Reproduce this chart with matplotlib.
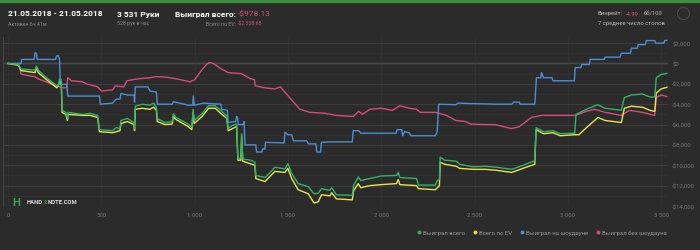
import matplotlib
matplotlib.use("Agg")
from matplotlib import pyplot as plt
from matplotlib.lines import Line2D
from matplotlib.ticker import FuncFormatter, MultipleLocator

plt.rcParams['font.family'] = ['Roboto', 'DejaVu Sans']

# --- data (hands, dollars) ---
green_x = [0, 55, 70, 145, 152, 162, 200, 262, 272, 276, 285, 290, 310, 318, 322, 400, 440, 480, 490, 560,
           580, 600, 605, 640, 675, 678, 682, 720, 760, 780, 795, 800, 840, 880, 886, 900, 965, 985, 992, 998,
           1040, 1075, 1110, 1140, 1172, 1180, 1200, 1225, 1232, 1248, 1252, 1258, 1300, 1323, 1328, 1377, 1400,
           1430, 1484, 1500, 1520, 1555, 1609, 1640, 1662, 1680, 1725, 1735, 1760, 1845, 1852, 1877, 1890, 1939,
           2000, 2082, 2091, 2100, 2189, 2200, 2290, 2300, 2312, 2316, 2340, 2403, 2420, 2492, 2560, 2620, 2700,
           2760, 2823, 2830, 2870, 2920, 2960, 3037, 3044, 3100, 3160, 3200, 3287, 3303, 3340, 3400, 3440, 3466,
           3474, 3500, 3531]
green_y = [0, -100, -550, -650, -250, -650, -1300, -2200, -2100, -1500, -1600, -4600, -4800, -5400, -4800, -5000,
           -4900, -5100, -6500, -6600, -6300, -6400, -5600, -5400, -5800, -6400, -4200, -4000, -4100, -3900, -4300,
           -5400, -5800, -5700, -4950, -5300, -5950, -6250, -4500, -5600, -4900, -4150, -4150, -4600, -5150, -6400,
           -6100, -5950, -9350, -9300, -6900, -9400, -9500, -9700, -11000, -11200, -10800, -10200, -10350, -9850,
           -10800, -11800, -12100, -12800, -12750, -12300, -12450, -12200, -12900, -12950, -12000, -11150, -11500,
           -11300, -11050, -11000, -10700, -11200, -11300, -11950, -11950, -11500, -11400, -9200, -9500, -9600,
           -9900, -10150, -10100, -10200, -10400, -10000, -9550, -6300, -6700, -6600, -6900, -6850, -5000, -4500,
           -4050, -4400, -4600, -3350, -3100, -3000, -3300, -3300, -1400, -1080, -978]

yellow_x = [0, 55, 70, 145, 152, 162, 200, 262, 276, 285, 290, 310, 318, 322, 400, 440, 480, 490, 560, 600,
            605, 640, 675, 678, 682, 720, 760, 780, 795, 800, 840, 880, 886, 900, 965, 985, 992, 998, 1040, 1075,
            1110, 1140, 1172, 1180, 1225, 1232, 1248, 1252, 1258, 1323, 1328, 1377, 1430, 1484, 1500, 1520, 1555,
            1609, 1640, 1662, 1680, 1725, 1735, 1760, 1845, 1852, 1877, 1890, 1939, 2000, 2082, 2091, 2100, 2189,
            2200, 2290, 2312, 2316, 2340, 2403, 2420, 2492, 2560, 2620, 2700, 2760, 2823, 2830, 2870, 2920, 2960,
            3037, 3060, 3100, 3162, 3200, 3287, 3303, 3340, 3400, 3440, 3466, 3474, 3500, 3531]
yellow_y = [0, -150, -700, -900, -400, -900, -1500, -2400, -1800, -1900, -4800, -5000, -5600, -5000, -5100, -5100,
            -5300, -6700, -6800, -6600, -5900, -5700, -6000, -6600, -4500, -4400, -4500, -4300, -4600, -5700, -6000,
            -5950, -5200, -5500, -6200, -6500, -4800, -5900, -5200, -4400, -4400, -4900, -5400, -6600, -6200, -9500,
            -9500, -7100, -9600, -10000, -11300, -11600, -10600, -10700, -10300, -11300, -12400, -12800, -13700,
            -13600, -12900, -13000, -12700, -13300, -13400, -12500, -11800, -12200, -12000, -11900, -11800, -11400,
            -11900, -12000, -12300, -12400, -12000, -9700, -9900, -10100, -10300, -10400, -10400, -10500, -10700,
            -10300, -9900, -6500, -6900, -6800, -7100, -7000, -7000, -6300, -5300, -5600, -5800, -4400, -4200,
            -4300, -4600, -4700, -2900, -2500, -2339]

blue_x = [0, 70, 73, 140, 145, 152, 156, 255, 260, 270, 276, 280, 315, 320, 490, 495, 560, 580, 600, 605, 640,
          675, 678, 682, 750, 760, 795, 800, 880, 886, 965, 990, 993, 998, 1046, 1140, 1145, 1175, 1180, 1220,
          1225, 1230, 1234, 1260, 1265, 1270, 1328, 1332, 1360, 1365, 1377, 1380, 1480, 1484, 1500, 1520, 1530,
          1600, 1610, 1650, 1655, 1675, 1680, 1725, 1845, 1850, 1880, 1890, 2080, 2085, 2110, 2115, 2125, 2150,
          2160, 2290, 2300, 2308, 2400, 2412, 2500, 2620, 2700, 2710, 2740, 2745, 2823, 2832, 2855, 2859, 2870,
          2915, 2921, 3035, 3040, 3070, 3075, 3115, 3120, 3195, 3200, 3280, 3287, 3335, 3341, 3372, 3377, 3415,
          3421, 3466, 3470, 3515, 3520, 3531]
blue_y = [0, 0, 400, 400, 1050, 1000, 400, 400, 750, 750, 400, -2050, -2050, -3200, -3200, -4000, -3900, -3500,
          -3500, -2950, -3100, -3100, -3800, -2300, -2300, -2700, -2800, -4000, -4000, -3750, -4100, -4100, -3200,
          -4100, -3900, -4000, -4500, -4600, -5800, -5700, -5200, -5300, -6000, -6000, -5700, -8000, -8000, -8700,
          -8700, -8400, -8400, -7750, -7800, -6750, -7000, -7000, -7600, -7600, -7900, -7900, -8700, -8700, -7750,
          -7700, -7700, -6600, -6600, -6850, -6850, -6500, -6500, -7100, -6700, -6800, -7100, -7100, -6700, -4000,
          -4050, -3900, -3950, -4000, -4000, -3800, -3800, -4000, -4000, -1400, -1400, -900, -1400, -1400, -1700,
          -1700, -400, -400, -100, -100, 400, 400, 620, 620, 1000, 1000, 1500, 1500, 1850, 1850, 2250, 2250, 2000,
          2000, 2270, 2270]

pink_x = [0, 60, 70, 110, 145, 160, 260, 300, 315, 320, 340, 400, 420, 480, 500, 560, 575, 620, 637, 700, 760,
          790, 850, 900, 975, 1000, 1040, 1064, 1080, 1100, 1140, 1180, 1250, 1300, 1320, 1325, 1380, 1430, 1460,
          1502, 1540, 1564, 1618, 1700, 1760, 1850, 1880, 1900, 1939, 2000, 2060, 2100, 2150, 2189, 2210, 2290,
          2350, 2400, 2450, 2480, 2560, 2610, 2698, 2740, 2805, 2860, 2920, 3000, 3040, 3100, 3144, 3200, 3287,
          3330, 3400, 3466, 3474, 3500, 3531]
pink_y = [0, -200, -1050, -1200, -1300, -1500, -2200, -2400, -2350, -1400, -1700, -1800, -2000, -2300, -2700,
          -2600, -2200, -2300, -1700, -1500, -1400, -1300, -1350, -1500, -1800, -1600, -600, -100, 100, 0, -500,
          -900, -1000, -1500, -1600, -2200, -2400, -2500, -2300, -3200, -4000, -4500, -4800, -4900, -5100, -5200,
          -4700, -5000, -4500, -4400, -4600, -4150, -4400, -4500, -4800, -4800, -5100, -5600, -5700, -5950, -6000,
          -6000, -6400, -6200, -5300, -5100, -5100, -5100, -5100, -4700, -4500, -4800, -5100, -4600, -4800, -5100,
          -3350, -3100, -3248]

labels = ["Выиграл всего", "Всего по EV", "Выиграл на шоудауне", "Выиграл без шоудауна"]
colors = ["#2fb46a", "#e6e64c", "#4a8fd6", "#d84a7c"]

BG = "#2b2b2b"
W, H = 700, 251


def px(x, y):
    return x / W, 1 - y / H


fig = plt.figure(figsize=(7, 2.51), dpi=100, facecolor=BG)

# header strip
fig.add_artist(plt.Rectangle((0, 1 - 2.5 / H), 1, 2.5 / H, transform=fig.transFigure, color="#3a8f3a"))

fig.text(*px(8, 14), "21.05.2018 - 21.05.2018", color="white", fontsize=6, va="center", fontweight="bold")
fig.text(*px(8, 24), "Активен 6ч 41м", color="#8a8a8a", fontsize=3.8, va="center")
fig.text(*px(117, 14), "3 531 Руки", color="white", fontsize=6, va="center", fontweight="bold")
fig.text(*px(117, 24), "528 рук в час", color="#8a8a8a", fontsize=3.8, va="center")
fig.text(*px(236, 14), "Выиграл всего:", color="white", fontsize=6, va="center", ha="right", fontweight="bold")
fig.text(*px(238, 14), "-$978.13", color="#d84a7c", fontsize=6, va="center")
fig.text(*px(236, 24), "Всего по EV:", color="#8a8a8a", fontsize=3.8, va="center", ha="right")
fig.text(*px(238, 24), "-$2,338.68", color="#d84a7c", fontsize=3.8, va="center")
fig.text(*px(598, 14), "Винрейт:", color="#bbbbbb", fontsize=4.2, va="center")
fig.text(*px(626, 14), "-4.99", color="#d84a7c", fontsize=4.2, va="center")
fig.text(*px(644, 14), "бб/100", color="#bbbbbb", fontsize=4.2, va="center")
fig.text(*px(598, 24), "7 среднее число столов", color="#bbbbbb", fontsize=4.2, va="center")
fig.add_artist(plt.Circle((6.835, 2.51 - 0.145), 0.06, transform=fig.dpi_scale_trans,
                          fill=False, ec="#4a4a4a", lw=0.8))

# chart
ax = fig.add_axes([3 / W, 1 - 207 / H, 665 / W, 169 / H])
ax.set_facecolor(BG)
ax.set_xlim(-27, 3537)
ax.set_ylim(-14000, 2600)

ax.yaxis.set_major_locator(MultipleLocator(2000))
ax.yaxis.set_minor_locator(MultipleLocator(1000))
ax.xaxis.set_major_locator(MultipleLocator(500))
ax.grid(which="major", axis="y", color="#404040", lw=0.6)
ax.grid(which="minor", axis="y", color="#333333", lw=0.5)
ax.grid(which="major", axis="x", color="#353535", lw=0.5)
ax.axhline(0, color="#7a7a7a", lw=0.9, zorder=1)

ax.yaxis.tick_right()
ax.yaxis.set_major_formatter(FuncFormatter(
    lambda v, p: ("-$" if v < 0 else "$") + format(int(abs(v)), ",")))
ax.xaxis.set_major_formatter(FuncFormatter(lambda v, p: format(int(v), ",").replace(",", " ")))
ax.tick_params(which="both", length=0, labelsize=4.3, colors="#777777", pad=4)
ax.tick_params(axis="y", pad=3)
for s in ["top", "right", "bottom"]:
    ax.spines[s].set_visible(False)
ax.spines["left"].set_color("#444444")
ax.spines["left"].set_linewidth(0.8)

series = [(pink_x, pink_y), (blue_x, blue_y), (yellow_x, yellow_y), (green_x, green_y)]
for (xs, ys), c in zip(series, [colors[3], colors[2], colors[1], colors[0]]):
    ax.plot(xs, ys, color=c, lw=1.0, zorder=3)

# watermark
fig.text(*px(12, 203), "H", color="#3aa04a", fontsize=8, va="center", fontweight="bold")
fig.text(*px(27, 203), "HAND", color="#dddddd", fontsize=4.2, va="center", fontweight="bold")
fig.text(*px(43.5, 203), "2", color="#3aa04a", fontsize=4.2, va="center", fontweight="bold")
fig.text(*px(47.5, 203), "NOTE.COM", color="#dddddd", fontsize=4.2, va="center", fontweight="bold")

handles = [Line2D([], [], marker="o", ls="", color=c, markersize=1.8) for c in colors]
fig.legend(handles, labels, loc="center right", bbox_to_anchor=px(672, 233), ncol=4, frameon=False,
           fontsize=4.3, labelcolor="#999999", handlelength=0.6, handletextpad=0.4, columnspacing=1.3)

fig.savefig("out.png", dpi=100, facecolor=BG)
